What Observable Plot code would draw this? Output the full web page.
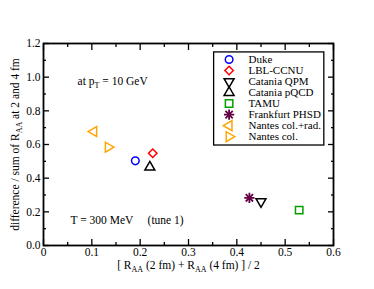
<!DOCTYPE html>
<html><head><meta charset="utf-8">
<script src="https://cdn.jsdelivr.net/npm/d3@7"></script>
<script src="https://cdn.jsdelivr.net/npm/@observablehq/plot@0.6"></script>
<style>
body{margin:0;background:#fff}
</style>
</head><body><div id="chart"></div>
<script>
const models = ["Duke","LBL-CCNU","Catania QPM","Catania pQCD","TAMU","Frankfurt PHSD","Nantes col.+rad.","Nantes col."];
const xValues = [0.19,0.226,0.45,0.22,0.529,0.426,0.104,0.134];
const yValues = [0.503,0.548,0.261,0.465,0.21,0.283,0.677,0.584];
const colors = ["#0000ff","#ff0000","#000000","#000000","#00a000","#660044","#ffa500","#ffa500"];
const symbols = ["circle","diamond2","triangle","triangle","square","asterisk","triangle","triangle"];
const rotations = [0,0,180,0,0,0,-90,90];
const xMajor = [0,0.1,0.2,0.3,0.4,0.5,0.6];
const xMinor = [0.05,0.15,0.25,0.35,0.45,0.55];
const yMajor = [0,0.2,0.4,0.6,0.8,1.0,1.2];
const yMinor = [0.1,0.3,0.5,0.7,0.9,1.1];
const xLabel = "[ R_{AA} (2 fm) + R_{AA} (4 fm) ] / 2";
const yLabel = "difference / sum of R_{AA} at 2 and 4 fm";
const note1 = "at p_{T} = 10 GeV";
const note2 = "T = 300 MeV     (tune 1)";

const FONT = '"Liberation Serif", "Times New Roman", "DejaVu Serif", serif';
const FS = 11.5, FSL = 11;

const data = models.map((m,i)=>({model:m,x:xValues[i],y:yValues[i],color:colors[i],symbol:symbols[i],rotate:rotations[i],i}));

// legend layout (in data units)
const legX = 0.384, legTextX = 0.424, legTop = 1.105, legStep = 0.0655;
const legend = data.map(d=>({...d, lx:legX, ly:legTop - d.i*legStep}));

const noTxt = () => "";
const pointMarks = (rows, xk, yk) => {
  const out = [];
  rows.forEach(d=>{
    const base = {x:xk, y:yk, stroke:"color", strokeWidth:1.5, fill:"none", rotate:d.rotate};
    if (d.symbol === "asterisk") {
      out.push(Plot.dot([d], {...base, symbol:"plus", r:3.4, strokeWidth:1.8}));
      out.push(Plot.dot([d], {...base, symbol:"times", r:3.4, strokeWidth:1.8}));
      out.push(Plot.dot([d], {x:xk, y:yk, fill:"color", r:1.8}));
    } else {
      const r = d.symbol==="circle" ? 3.8 : d.symbol==="diamond2" ? 3.8 : d.symbol==="square" ? 4.2 : 3.7;
      out.push(Plot.dot([d], {...base, symbol:d.symbol, r}));
    }
  });
  return out;
};

const chart = Plot.plot({
  width:374, height:289,
  marginLeft:43, marginRight:41, marginTop:43, marginBottom:44,
  style:{fontFamily:FONT, fontSize:FS+"px", background:"#fff"},
  x:{domain:[0,0.6]},
  y:{domain:[0,1.2]},
  color:{type:"identity"},
  marks:[
    Plot.axisX(xMajor,{tickSize:-6, tickFormat:noTxt, label:null, strokeWidth:1.3}),
    Plot.axisX(xMinor,{tickSize:-3, tickFormat:noTxt, label:null, strokeWidth:1.3}),
    Plot.axisX(xMajor,{anchor:"top", tickSize:-6, tickFormat:noTxt, label:null, strokeWidth:1.3}),
    Plot.axisX(xMinor,{anchor:"top", tickSize:-3, tickFormat:noTxt, label:null, strokeWidth:1.3}),
    Plot.axisX(xMajor,{tickSize:0, tickPadding:2, tickFormat:d=>d===0?"0":d.toFixed(1), label:null, fontSize:FS, fill:"#000"}),
    Plot.axisY(yMajor,{tickSize:-6, tickFormat:noTxt, label:null, strokeWidth:1.3}),
    Plot.axisY(yMinor,{tickSize:-3, tickFormat:noTxt, label:null, strokeWidth:1.3}),
    Plot.axisY(yMajor,{anchor:"right", tickSize:-6, tickFormat:noTxt, label:null, strokeWidth:1.3}),
    Plot.axisY(yMinor,{anchor:"right", tickSize:-3, tickFormat:noTxt, label:null, strokeWidth:1.3}),
    Plot.axisY(yMajor,{tickSize:0, tickPadding:3, tickFormat:d=>d.toFixed(1), label:null, fontSize:FS, fill:"#000"}),
    Plot.text([xLabel],{frameAnchor:"bottom", dy:20, text:d=>d, fontSize:FS, textAnchor:"middle", lineAnchor:"middle"}),
    Plot.text([yLabel],{frameAnchor:"left", dx:-28, rotate:-90, text:d=>d, fontSize:FS, textAnchor:"middle", lineAnchor:"middle"}),
    Plot.text([note1],{x:0.0705, y:0.974, text:d=>d, textAnchor:"start", fontSize:FS, lineAnchor:"middle"}),
    Plot.text([note2],{x:0.056, y:0.149, text:d=>d, textAnchor:"start", fontSize:FS, lineAnchor:"middle"}),
    Plot.rect([0],{x1:0.353, x2:0.581, y1:1.147, y2:0.594, fill:"#fff", stroke:"#000", strokeWidth:1.3}),
    ...pointMarks(legend, "lx", "ly"),
    Plot.text(legend,{x:legTextX, y:"ly", text:"model", textAnchor:"start", fontSize:FSL, lineAnchor:"middle"}),
    ...pointMarks(data, "x", "y"),
    Plot.frame({stroke:"#000", strokeWidth:1.8})
  ]
});

// subscript post-processing + font
d3.select(chart).selectAll("text").style("font-family", FONT).each(function(){
  const t = this.textContent;
  if (!t.includes("_{")) return;
  const el = d3.select(this);
  el.text(null);
  const parts = t.split(/(_\{[^}]*\})/);
  let shifted = false;
  parts.forEach(p=>{
    if (!p) return;
    const m = p.match(/^_\{(.*)\}$/);
    if (m) {
      el.append("tspan").attr("dy", shifted ? 0 : 3).attr("font-size", 8).text(m[1]);
      shifted = true;
    } else {
      el.append("tspan").attr("dy", shifted ? -3 : 0).text(p);
      shifted = false;
    }
  });
});

document.getElementById("chart").appendChild(chart);
</script>
</body></html>
